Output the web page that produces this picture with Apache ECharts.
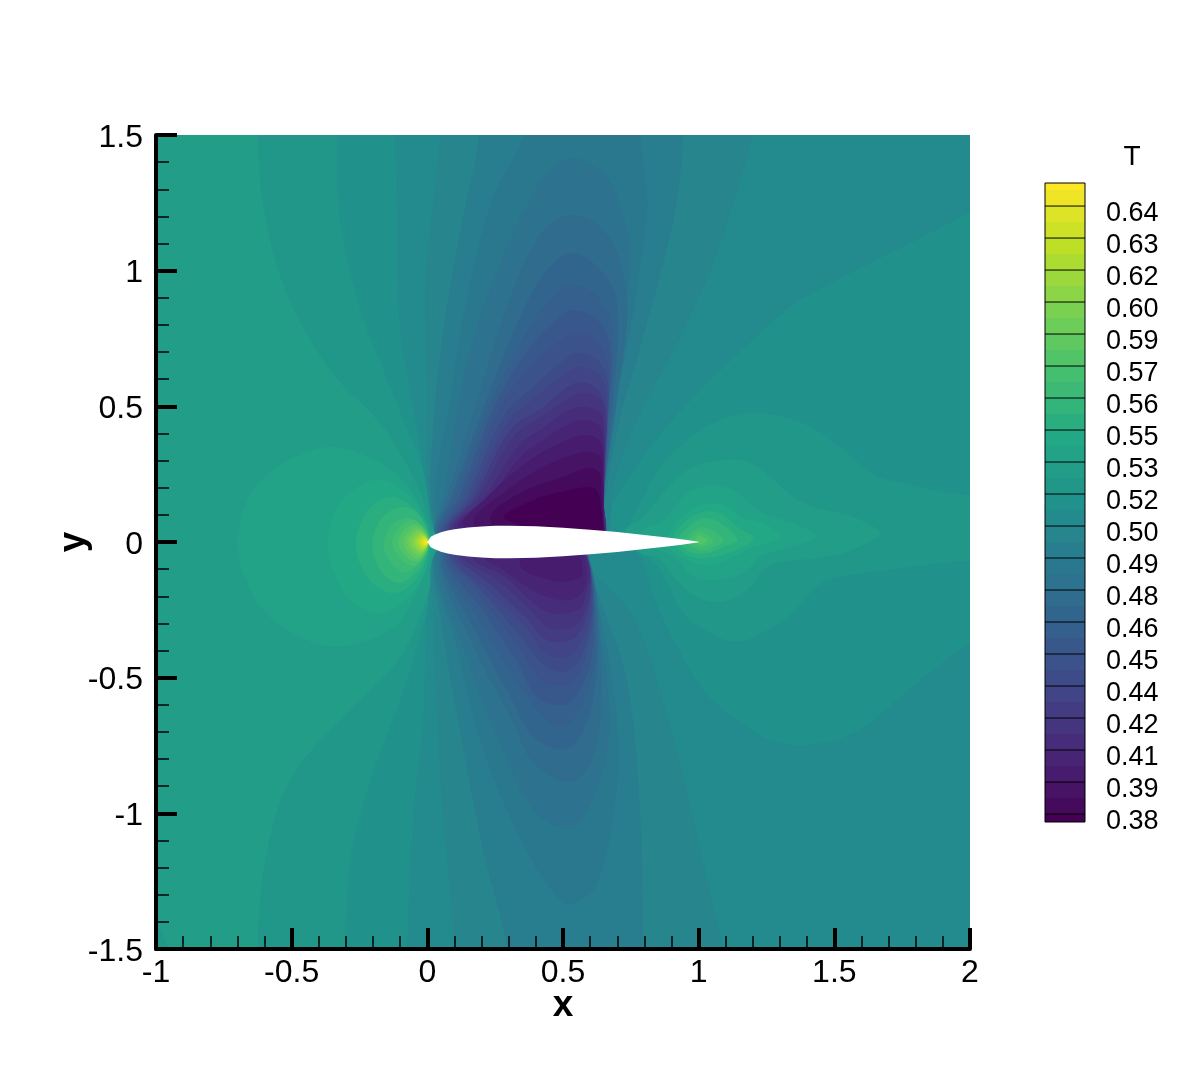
<!DOCTYPE html>
<html><head><meta charset="utf-8">
<style>html,body{margin:0;padding:0;background:#fff}#c{width:1200px;height:1067px}</style>
<script src="https://cdn.jsdelivr.net/npm/echarts@6/dist/echarts.min.js"></script>
</head><body><div id="c"></div>
<script>
// Colour-bar tick values and band step (T)
const colorbarTicks=[0.38,0.39385,0.4077,0.42155,0.4354,0.44925,0.4631,0.47695,0.4908,0.50465,0.5185,0.53235,0.5462,0.56005,0.5739,0.58775,0.6016,0.61545,0.6293,0.64315];
const bandStep=0.006925, colorbarMin=0.37654, colorbarMax=0.65312;
const viridisStops=['#440154','#482475','#414487','#355f8d','#2a788e','#21918c','#22a884','#44bf70','#7ad151','#bddf26','#fde725'];

// Airfoil surface (x, half thickness)
const foilX=[0,0.0125,0.025,0.05,0.075,0.1,0.15,0.2,0.25,0.3,0.4,0.5,0.6,0.7,0.8,0.9,0.95,1];
const foilH=[0,0.0189,0.0262,0.0356,0.042,0.0468,0.0534,0.0574,0.0595,0.06,0.058,0.0529,0.0456,0.0366,0.0262,0.0145,0.0081,0.0013];

// Contour regions, in data coordinates (x, y)
const far22=[[-1.2,-1.7],[2.5,-1.7],[2.5,1.7],[-1.2,1.7]];
const west21=[[-.623,1.65],[-.623,1.5],[-.608,1.261],[-.523,.929],[-.358,.634],[-.184,.45],[-.1,.328],[-.026,.181],[.011,.055],[.048,0],[.011,-.166],[-.1,-.424],[-.321,-.656],[-.505,-.877],[-.597,-1.172],[-.627,-1.5],[-.627,-1.65],[2.2,-1.65],[2.2,1.65]];
const corner21=[[-1.05,-1.4],[-1,-1.405],[-.975,-1.45],[-.955,-1.52],[-1.05,-1.52]];
const west20=[[-.332,1.65],[-.332,1.5],[-.321,1.187],[-.247,.855],[-.155,.616],[-.088,.45],[-.015,.265],[.018,.063],[.048,0],[.018,-.177],[-.052,-.435],[-.1,-.582],[-.21,-.877],[-.284,-1.172],[-.302,-1.5],[-.302,-1.65],[2.2,-1.65],[2.2,1.65]];
const top19=[[-.118,1.65],[-.118,1.5],[-.111,1.15],[-.1,.781],[-.037,.413],[.004,.166],[.022,.063],[.085,0],[.638,0],[.686,.144],[.822,.35],[1.006,.56],[1.253,.792],[1.375,.892],[2.001,1.216],[2.48,1.482],[2.48,1.65]];
const bot19=[[-.074,-1.65],[-.074,-1.5],[-.052,-1.014],[-.015,-.645],[.011,-.151],[.085,0],[.711,0],[.785,-.052],[.833,-.203],[.922,-.387],[1.017,-.546],[1.143,-.656],[1.264,-.73],[1.401,-.748],[1.57,-.704],[1.696,-.612],[1.817,-.509],[2.001,-.372],[2.48,-.066],[2.48,-1.65]];
const top18=[[.048,1.65],[.048,1.5],[.011,1.15],[-.007,.963],[0,.534],[.011,.107],[.085,0],[.638,0],[.686,.217],[.785,.476],[.933,.756],[1.054,1.028],[1.128,1.25],[1.199,1.5],[1.23,1.65]];
const bot18=[[.103,-1.65],[.103,-1.5],[.059,-1.014],[.037,-.645],[.022,-.276],[.018,-.066],[.085,0],[.601,0],[.601,-.092],[.759,-.276],[.885,-.645],[1.006,-1.135],[1.087,-1.5],[1.1,-1.65]];
const top17=[[.192,1.65],[.192,1.5],[.122,1.15],[.059,.781],[.022,.413],[.018,.107],[.085,0],[.638,0],[.649,.107],[.7,.413],[.785,.719],[.87,1.028],[.922,1.272],[.944,1.5],[.952,1.65]];
const bot17=[[.295,-1.65],[.295,-1.5],[.206,-1.135],[.111,-.645],[.048,-.276],[.022,-.066],[.085,0],[.582,0],[.593,-.077],[.638,-.214],[.737,-.52],[.785,-1.014],[.796,-1.5],[.8,-1.65]];
const top16=[[.354,1.65],[.354,1.5],[.243,1.272],[.147,.903],[.085,.534],[.03,.166],[.085,0],[.638,0],[.649,.166],[.7,.534],[.759,.844],[.803,1.15],[.811,1.272],[.785,1.5],[.785,1.65]];
const bot16=[[.033,-.037],[.111,-.398],[.206,-.767],[.332,-1.073],[.42,-1.23],[.509,-1.331],[.58,-1.31],[.627,-1.257],[.686,-1.014],[.704,-.767],[.675,-.461],[.612,-.151],[.593,-.066],[.49,0],[.25,0]];
const bot15=[[.041,-.041],[.158,-.461],[.28,-.767],[.391,-.988],[.516,-1.054],[.59,-.988],[.663,-.767],[.663,-.52],[.627,-.276],[.593,-.077],[.49,0],[.25,0]];
const bot14=[[.048,-.044],[.177,-.398],[.306,-.645],[.391,-.815],[.516,-.885],[.59,-.84],[.638,-.645],[.638,-.398],[.608,-.103],[.55,0],[.25,0]];
const bot13=[[.055,-.048],[.188,-.35],[.306,-.571],[.391,-.719],[.501,-.767],[.564,-.719],[.612,-.571],[.627,-.372],[.601,-.092],[.55,0],[.25,0]];
const bot12=[[.063,-.048],[.199,-.299],[.317,-.498],[.405,-.619],[.49,-.682],[.553,-.63],[.608,-.483],[.619,-.335],[.601,-.092],[.55,0],[.25,0]];
const bot11=[[.07,-.052],[.21,-.262],[.332,-.446],[.405,-.571],[.49,-.601],[.546,-.571],[.601,-.446],[.612,-.299],[.597,-.085],[.55,0],[.25,0]];
const bot10=[[.081,-.052],[.177,-.177],[.343,-.398],[.417,-.509],[.498,-.531],[.553,-.498],[.593,-.387],[.612,-.262],[.597,-.085],[.55,0],[.25,0]];
const bot9=[[.088,-.052],[.199,-.177],[.354,-.361],[.428,-.453],[.501,-.479],[.553,-.446],[.593,-.35],[.608,-.24],[.597,-.085],[.55,0],[.25,0]];
const bot8=[[.1,-.052],[.221,-.177],[.369,-.324],[.428,-.405],[.501,-.424],[.553,-.391],[.59,-.313],[.604,-.214],[.597,-.085],[.55,0],[.25,0]];
const bot7=[[.114,-.052],[.225,-.151],[.372,-.288],[.428,-.354],[.501,-.369],[.553,-.343],[.586,-.276],[.601,-.188],[.597,-.085],[.55,0],[.25,0]];
const bot6=[[.129,-.052],[.258,-.14],[.38,-.251],[.442,-.313],[.509,-.321],[.557,-.299],[.586,-.24],[.601,-.166],[.593,-.077],[.55,0],[.28,0]];
const bot5=[[.17,-.059],[.288,-.129],[.38,-.214],[.442,-.258],[.516,-.262],[.564,-.243],[.586,-.188],[.597,-.129],[.59,-.066],[.55,0],[.3,0]];
const bot4=[[.214,-.059],[.28,-.103],[.369,-.166],[.442,-.203],[.527,-.214],[.571,-.184],[.586,-.14],[.582,-.066],[.55,0],[.32,0]];
const bot3=[[.343,-.066],[.354,-.103],[.428,-.133],[.49,-.147],[.564,-.129],[.571,-.092],[.557,-.048],[.5,0],[.4,0]];
const top15=[[.534,1.415],[.6,1.39],[.663,1.345],[.737,1.15],[.748,1.028],[.722,.781],[.686,.534],[.649,.166],[.638,0],[.269,0],[.033,.029],[.059,.166],[.147,.66],[.269,1.028],[.391,1.286],[.453,1.371]];
const top14=[[.534,1.205],[.638,1.161],[.711,1.028],[.737,.844],[.7,.534],[.649,.166],[.638,0],[.269,0],[.037,.029],[.074,.166],[.195,.56],[.317,.929],[.428,1.15]];
const top13=[[.534,1.065],[.638,1.003],[.7,.881],[.686,.534],[.649,.166],[.638,0],[.269,0],[.041,.029],[.088,.166],[.232,.56],[.354,.855],[.442,1.003]];
const top12=[[.534,.947],[.627,.903],[.682,.781],[.675,.534],[.649,.166],[.638,0],[.269,0],[.044,.029],[.1,.166],[.243,.534],[.369,.781],[.453,.892]];
const top11=[[.534,.855],[.627,.818],[.675,.708],[.667,.475],[.649,.118],[.638,0],[.269,0],[.052,.029],[.118,.166],[.258,.523],[.38,.719],[.464,.807]];
const top10=[[.546,.774],[.63,.734],[.667,.634],[.663,.413],[.649,.118],[.638,0],[.269,0],[.059,.033],[.133,.166],[.269,.498],[.391,.66],[.479,.734]];
const top9=[[.557,.697],[.638,.66],[.667,.56],[.656,.35],[.649,.118],[.638,0],[.269,0],[.066,.033],[.147,.166],[.28,.461],[.405,.586],[.49,.66]];
const top8=[[.564,.645],[.638,.608],[.663,.512],[.652,.291],[.649,.118],[.638,0],[.269,0],[.074,.037],[.162,.166],[.295,.439],[.417,.549],[.49,.608]];
const top7=[[.564,.59],[.63,.56],[.66,.475],[.649,.229],[.649,.1],[.638,0],[.269,0],[.081,.041],[.173,.166],[.306,.413],[.428,.498],[.501,.56]];
const top6=[[.571,.549],[.638,.523],[.656,.439],[.649,.166],[.638,0],[.269,0],[.088,.044],[.188,.166],[.317,.387],[.442,.475],[.501,.516]];
const top5=[[.571,.498],[.638,.475],[.652,.387],[.649,.166],[.638,0],[.3,0],[.1,.048],[.21,.166],[.332,.35],[.442,.431],[.501,.475]];
const top4=[[.575,.45],[.638,.424],[.649,.35],[.649,.118],[.638,0],[.3,0],[.114,.055],[.232,.166],[.343,.313],[.442,.387],[.501,.424]];
const top3=[[.582,.394],[.638,.369],[.649,.291],[.649,.1],[.638,0],[.3,0],[.133,.063],[.221,.166],[.317,.254],[.417,.328],[.501,.369]];
const top2=[[.59,.332],[.638,.313],[.645,.229],[.649,.08],[.638,0],[.3,0],[.17,.074],[.295,.192],[.405,.265],[.501,.31]];
const top1=[[.593,.273],[.634,.254],[.641,.166],[.649,.044],[.638,0],[.3,0],[.232,.088],[.28,.144],[.391,.203],[.501,.24]];
const top0=[[.601,.203],[.63,.181],[.645,.081],[.649,.03],[.638,0],[.4,0],[.332,.063],[.28,.092],[.391,.155],[.49,.184]];
const wake21=[[2.48,.173],[2.001,.173],[1.696,.229],[1.622,.265],[1.474,.387],[1.349,.45],[1.202,.475],[1.08,.45],[.958,.376],[.859,.276],[.796,.166],[.748,.07],[.73,0],[.774,-.037],[.811,-.055],[.859,-.103],[.944,-.262],[1.043,-.335],[1.143,-.369],[1.253,-.324],[1.327,-.276],[1.412,-.188],[1.474,-.14],[1.696,-.103],[2.001,-.07],[2.48,-.07]];
const wake22=[[1.67,.037],[1.57,.092],[1.423,.129],[1.349,.166],[1.264,.24],[1.18,.295],[1.08,.302],[.958,.265],[.848,.155],[.785,.081],[.73,.044],[.785,-.041],[.848,-.059],[.907,-.129],[.995,-.203],[1.08,-.221],[1.18,-.177],[1.238,-.103],[1.301,-.074],[1.449,-.059],[1.57,-.029],[1.659,.018]];
const wake23=[[1.438,.026],[1.349,.07],[1.238,.107],[1.165,.166],[1.106,.203],[1.043,.21],[.958,.181],[.87,.081],[.796,.044],[.785,-.011],[.848,-.029],[.907,-.055],[.98,-.129],[1.069,-.14],[1.165,-.114],[1.227,-.055],[1.301,-.029],[1.423,.007]];
const wake24=[[1.301,.018],[1.238,.07],[1.154,.092],[1.117,.125],[1.043,.144],[.958,.111],[.885,.018],[.885,-.018],[.958,-.066],[1.032,-.085],[1.106,-.066],[1.18,-.029]];
const wake25=[[1.202,.011],[1.143,.055],[1.08,.107],[1.017,.111],[.944,.07],[.907,.011],[.958,-.048],[1.032,-.059],[1.117,-.037]];
const wake26=[[1.143,.007],[1.08,.07],[1.017,.088],[.958,.052],[.925,.007],[.969,-.037],[1.032,-.041],[1.091,-.018]];
const wake27=[[1.091,.007],[1.017,.055],[.962,.026],[.951,.004],[.98,-.022],[1.032,-.029]];
const wake28=[[1.054,.004],[1.006,.037],[.969,.007],[1.006,-.018]];
const wake29=[[1.032,.004],[1.003,.022],[.988,.004],[1.006,-.007]];
const nose23=[[-.7,-.011],[-.665,.155],[-.592,.247],[-.47,.322],[-.332,.35],[-.147,.276],[-.052,.181],[0,.063],[.018,0],[0,-.085],[-.052,-.214],[-.136,-.324],[-.332,-.387],[-.47,-.35],[-.592,-.265],[-.665,-.15]];
const nose24=[[-.369,-.011],[-.339,.118],[-.284,.184],[-.184,.229],[-.081,.184],[-.007,.081],[.011,0],[-.007,-.111],[-.063,-.195],[-.166,-.262],[-.284,-.214],[-.339,-.122]];
const nose25=[[-.265,-.011],[-.24,.081],[-.192,.144],[-.136,.166],[-.063,.136],[-.007,.063],[.007,0],[-.011,-.085],[-.063,-.159],[-.125,-.188],[-.192,-.159],[-.24,-.096]];
const nose26=[[-.203,-.011],[-.181,.07],[-.136,.114],[-.088,.129],[-.037,.107],[0,.044],[.007,0],[-.011,-.066],[-.052,-.122],[-.1,-.151],[-.147,-.133],[-.184,-.085]];
const nose27=[[-.162,-.011],[-.144,.044],[-.111,.077],[-.07,.088],[-.026,.066],[.004,.026],[.004,-.022],[-.026,-.074],[-.074,-.111],[-.118,-.092],[-.147,-.055]];
const nose28=[[-.129,0],[-.1,.055],[-.055,.081],[-.015,.055],[.006,.004],[-.015,-.06],[-.055,-.088],[-.1,-.06]];
const nose29=[[-.107,0],[-.082,.046],[-.045,.066],[-.012,.044],[.006,.004],[-.012,-.05],[-.045,-.072],[-.082,-.05]];
const nose30=[[-.088,0],[-.068,.038],[-.037,.055],[-.01,.037],[.005,.003],[-.01,-.04],[-.037,-.06],[-.068,-.04]];
const nose31=[[-.074,0],[-.057,.032],[-.031,.045],[-.008,.03],[.005,.003],[-.008,-.033],[-.031,-.05],[-.057,-.033]];
const nose32=[[-.063,0],[-.048,.027],[-.026,.038],[-.007,.026],[.004,.002],[-.007,-.028],[-.026,-.042],[-.048,-.028]];
const nose33=[[-.052,0],[-.04,.022],[-.022,.032],[-.006,.022],[.004,.002],[-.006,-.024],[-.022,-.035],[-.04,-.024]];
const nose34=[[-.044,0],[-.034,.019],[-.018,.027],[-.005,.018],[.003,.002],[-.005,-.02],[-.018,-.03],[-.034,-.02]];
const nose35=[[-.037,0],[-.028,.016],[-.015,.023],[-.004,.015],[.003,.001],[-.004,-.017],[-.015,-.025],[-.028,-.017]];
const nose36=[[-.03,0],[-.023,.013],[-.012,.019],[-.003,.012],[.002,.001],[-.003,-.014],[-.012,-.021],[-.023,-.014]];
const nose37=[[-.023,0],[-.018,.01],[-.009,.015],[-.002,.01],[.002,.001],[-.002,-.011],[-.009,-.016],[-.018,-.011]];
const nose38=[[-.018,0],[-.014,.008],[-.007,.012],[-.002,.008],[.002,0],[-.002,-.008],[-.007,-.013],[-.014,-.008]];
const nose39=[[-.013,0],[-.01,.006],[-.005,.009],[-.001,.006],[.001,0],[-.001,-.006],[-.005,-.01],[-.01,-.006]];
const nose40=[[-.007,0],[-.005,.004],[-.002,.006],[0,.004],[.001,0],[0,-.004],[-.002,-.006],[-.005,-.004]];

// Paint order: [band index, polygon]
const regions=[[22,far22],[21,west21],[21,corner21],[20,west20],[19,top19],[19,bot19],[18,top18],[18,bot18],[17,top17],[17,bot17],[16,top16],
[16,bot16],[15,bot15],[14,bot14],[13,bot13],[12,bot12],[11,bot11],[10,bot10],[9,bot9],[8,bot8],[7,bot7],[6,bot6],[5,bot5],[4,bot4],[3,bot3],
[15,top15],[14,top14],[13,top13],[12,top12],[11,top11],[10,top10],[9,top9],[8,top8],[7,top7],[6,top6],[5,top5],[4,top4],[3,top3],[2,top2],[1,top1],[0,top0],
[21,wake21],[22,wake22],[23,wake23],[24,wake24],[25,wake25],[26,wake26],[27,wake27],[28,wake28],[29,wake29],
[23,nose23],[24,nose24],[25,nose25],[26,nose26],[27,nose27],[28,nose28],[29,nose29],[30,nose30],[31,nose31],[32,nose32],[33,nose33],[34,nose34],[35,nose35],[36,nose36],[37,nose37],[38,nose38],[39,nose39],[40,nose40]];

function bandColor(c){
  const t=c/40*10, i=Math.min(9,Math.floor(t)), f=t-i;
  const h=s=>[1,3,5].map(k=>parseInt(s.substr(k,2),16));
  const a=h(viridisStops[i]), b=h(viridisStops[i+1]);
  return 'rgb('+a.map((v,k)=>Math.round(v+(b[k]-v)*f)).join(',')+')';
}
const foil=foilX.map((x,i)=>[x,foilH[i]]).concat(foilX.map((x,i)=>[x,-foilH[i]]).reverse());
const bandCount=41;
const colorbarBands=[];
for(let c=0;c<bandCount;c++){
  const lo=c===0?colorbarMin:colorbarTicks[0]+(c-1)*bandStep;
  const hi=c===bandCount-1?colorbarMax:colorbarTicks[0]+c*bandStep;
  colorbarBands.push([0,lo,hi,c]);
}
const FONT='"Liberation Sans", Arial, sans-serif';
const chart=echarts.init(document.getElementById('c'),null,{renderer:'canvas'});
const mainAxis=(name,pos,min,max,gap)=>({
  type:'value',position:pos,min,max,interval:.5,name,nameLocation:'middle',nameGap:gap,nameMoveOverlap:false,
  nameTextStyle:{fontFamily:FONT,fontWeight:'bold',fontSize:37,color:'#000'},
  z:10,
  axisLine:{show:true,onZero:false,lineStyle:{color:'#000',width:4}},
  axisTick:{show:true,inside:true,length:21,lineStyle:{color:'#000',width:4}},
  minorTick:{show:true,splitNumber:5,length:13,lineStyle:{color:'#000',width:1.5}},
  splitLine:{show:false},minorSplitLine:{show:false},
  axisLabel:{fontFamily:FONT,fontSize:32,color:'#000',margin:pos==='left'?13:8,showMinLabel:true,showMaxLabel:true,hideOverlap:false,
    formatter:v=>'{a|'+v+'}',
    rich:{a:{fontFamily:FONT,fontSize:32,color:'#000',padding:pos==='left'?[6,0,0,0]:[0,0,0,0]}}}
});
chart.setOption({
  animation:false,backgroundColor:'#fff',
  title:{text:'T',left:1127,top:138,textAlign:'center',textStyle:{fontFamily:FONT,fontSize:28,fontWeight:'normal',color:'#000'}},
  grid:[{left:156,top:135,width:814,height:814,show:false},
        {left:1045,top:183,width:40,height:639,show:true,z:20,borderColor:'#000',borderWidth:1,backgroundColor:'transparent'}],
  xAxis:[mainAxis('x','bottom',-1,2,38),{gridIndex:1,type:'value',min:0,max:1,show:false}],
  yAxis:[mainAxis('y','left',-1.5,1.5,64),
    {gridIndex:1,type:'value',position:'right',min:colorbarMin,max:colorbarMax,z:10,
     axisLine:{show:false},axisTick:{show:false},splitLine:{show:false},
     axisLabel:{customValues:colorbarTicks,formatter:v=>'{a|'+v.toFixed(2)+'}',margin:21,verticalAlign:'middle',
       rich:{a:{fontFamily:FONT,fontSize:27,color:'#000',padding:[16,0,0,0]}}}}],
  series:[
   {type:'custom',xAxisIndex:0,yAxisIndex:0,clip:true,silent:true,z:2,
    data:regions.map((r,i)=>[i,0]),encode:{x:0,y:1},
    renderItem:(p,api)=>{const r=regions[p.dataIndex],col=bandColor(r[0]);
      return {type:'polygon',shape:{points:r[1].map(q=>api.coord(q)),smooth:.36},style:{fill:col}};}},
   {type:'custom',xAxisIndex:0,yAxisIndex:0,clip:true,silent:true,z:3,
    data:[[0,0]],encode:{x:0,y:1},
    renderItem:(p,api)=>({type:'polygon',shape:{points:foil.map(q=>api.coord(q))},style:{fill:'#fff'}})},
   {type:'custom',xAxisIndex:1,yAxisIndex:1,clip:true,silent:true,z:2,
    data:colorbarBands,encode:{x:0,y:[1,2]},
    renderItem:(p,api)=>{const a=api.coord([0,api.value(1)]),b=api.coord([1,api.value(2)]);
      return {type:'rect',shape:{x:a[0],y:b[1],width:b[0]-a[0],height:a[1]-b[1]},style:{fill:bandColor(api.value(3))}};}},
   {type:'custom',xAxisIndex:1,yAxisIndex:1,clip:true,silent:true,z:4,
    data:colorbarTicks.map(v=>[0,v]),encode:{x:0,y:1},
    renderItem:(p,api)=>{const a=api.coord([0,api.value(1)]),b=api.coord([1,api.value(1)]);
      return {type:'line',shape:{x1:a[0],y1:a[1],x2:b[0],y2:b[1]},style:{stroke:'#000',lineWidth:1}};}}
  ]
});
</script></body></html>
